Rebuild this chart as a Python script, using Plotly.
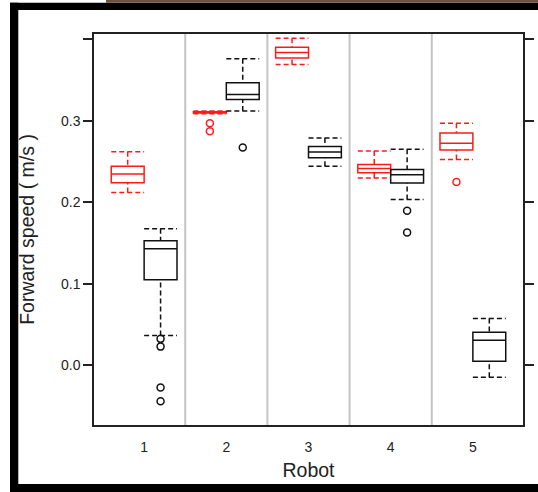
import plotly.graph_objects as go

# ---------------- data ----------------
robots = [1, 2, 3, 4, 5]
robot_labels = ["1", "2", "3", "4", "5"]

red_low = [0.212, 0.3085, 0.369, 0.2296, 0.2525]
red_q1 = [0.224, 0.3095, 0.377, 0.2362, 0.264]
red_med = [0.2345, 0.3100, 0.3835, 0.2415, 0.2722]
red_q3 = [0.244, 0.3110, 0.390, 0.2464, 0.285]
red_high = [0.262, 0.3120, 0.401, 0.2627, 0.297]
red_out = [[], [0.297, 0.287], [], [], [0.2247]]

black_low = [0.0366, 0.312, 0.244, 0.2035, -0.0145]
black_q1 = [0.105, 0.326, 0.2546, 0.2235, 0.0051]
black_med = [0.143, 0.332, 0.2615, 0.2337, 0.0309]
black_q3 = [0.1527, 0.3465, 0.2685, 0.2403, 0.0407]
black_high = [0.1675, 0.376, 0.2787, 0.2651, 0.0574]
black_out = [[0.0325, 0.023, -0.027, -0.044], [0.267], [], [0.1895, 0.163], []]

y_ticks = [0.0, 0.1, 0.2, 0.3, 0.4]
y_ticktext = ["0.0", "0.1", "0.2", "0.3", ""]

# ---------------- layout helpers ----------------
W, H = 538, 492
L, R, T, B = 94, 15, 34, 67


def px(x):
    return (x - L) / (W - L - R)


def py(y):
    return (H - B - y) / (H - T - B)


TXT = "#222222"
BOXW = 0.4

fig = go.Figure()

series = [
    ("#ff1a1a", -0.2, red_low, red_q1, red_med, red_q3, red_high, red_out),
    ("#111111", 0.2, black_low, black_q1, black_med, black_q3, black_high, black_out),
]

for color, off, low, q1, med, q3, high, outs in series:
    pos = [r + off for r in robots]
    fig.add_trace(go.Box(
        x=pos, q1=q1, median=med, q3=q3, lowerfence=q1, upperfence=q3,
        width=BOXW, whiskerwidth=0, boxpoints=False,
        line=dict(color=color, width=1.5), fillcolor="rgba(0,0,0,0)",
        showlegend=False, hoverinfo="skip"))
    wx, wy = [], []
    for p, lo, a, b, hi in zip(pos, low, q1, q3, high):
        h = BOXW / 2
        wx += [p, p, None, p, p, None, p - h, p + h, None, p - h, p + h, None]
        wy += [hi, b, None, lo, a, None, hi, hi, None, lo, lo, None]
    fig.add_trace(go.Scatter(
        x=wx, y=wy, mode="lines",
        line=dict(color=color, width=1.5, dash="5px,3px"),
        showlegend=False, hoverinfo="skip"))
    ox, oy = [], []
    for p, vals in zip(pos, outs):
        for v in vals:
            ox.append(p)
            oy.append(v)
    fig.add_trace(go.Scatter(
        x=ox, y=oy, mode="markers",
        marker=dict(symbol="circle-open", size=7, color=color,
                    line=dict(width=1.5, color=color)),
        showlegend=False, hoverinfo="skip"))

shapes = []
for r in robots[:-1]:
    shapes.append(dict(type="line", xref="x", yref="paper", x0=r + 0.5, x1=r + 0.5,
                       y0=0, y1=1, line=dict(color="#c4c4c4", width=2), layer="below"))
frame = [
    (10, 2.7, 18.3, 492),
    (10, 2.7, 538, 10),
    (10, 484, 538, 492),
]
for x0, y0, x1, y1 in frame:
    shapes.append(dict(type="rect", xref="paper", yref="paper",
                       x0=px(x0), x1=px(x1), y0=py(y1), y1=py(y0),
                       fillcolor="black", line=dict(width=0), layer="above"))
shapes.append(dict(type="rect", xref="paper", yref="paper",
                   x0=px(106), x1=px(538), y0=py(2.7), y1=py(0),
                   fillcolor="#6e5442", line=dict(width=0), layer="above"))

fig.update_layout(
    width=W, height=H,
    margin=dict(l=L, r=R, t=T, b=B, pad=0),
    paper_bgcolor="white", plot_bgcolor="white",
    font=dict(family="Arial", color=TXT, size=14),
    showlegend=False,
    shapes=shapes,
    xaxis=dict(range=[0.39, 5.61], tickvals=robots, ticktext=robot_labels,
               ticks="outside", ticklen=8, tickcolor="rgba(0,0,0,0)",
               showline=True, mirror=True, linecolor="#222222", linewidth=1.5,
               showgrid=False, zeroline=False, tickfont=dict(size=14),
               title=dict(text="Robot", font=dict(size=19.5), standoff=10),
               automargin=False),
    yaxis=dict(range=[-0.0731, 0.4063], tickvals=y_ticks, ticktext=y_ticktext,
               ticks="outside", ticklen=9, tickwidth=1.5, tickcolor="#222222",
               showline=True, mirror="ticks", linecolor="#222222", linewidth=1.5,
               showgrid=False, zeroline=False, tickfont=dict(size=14),
               title=dict(text="Forward speed ( m/s )", font=dict(size=19.5), standoff=21),
               automargin=False),
)

fig.write_html("out.html")
